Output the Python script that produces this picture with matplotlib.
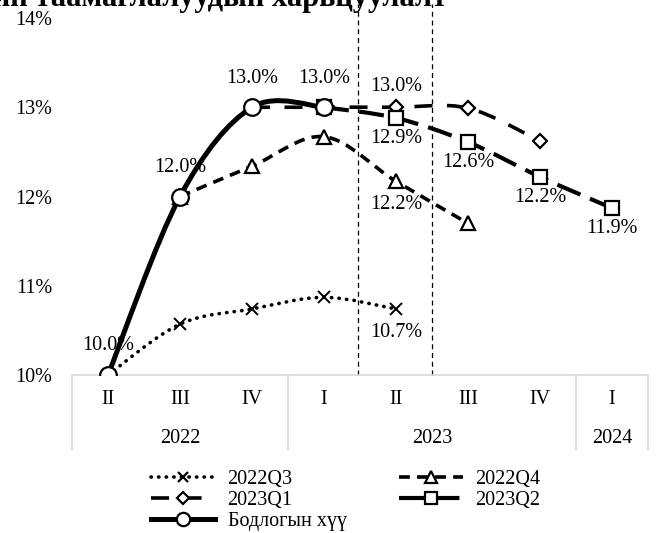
import numpy as np
import matplotlib
matplotlib.use("Agg")
import matplotlib.pyplot as plt
from matplotlib.path import Path
from matplotlib.patches import PathPatch
from matplotlib.lines import Line2D
from matplotlib.transforms import blended_transform_factory

plt.rcParams['font.family'] = ['Liberation Serif', 'DejaVu Serif']

# categories
quarters = ['II', 'III', 'IV', 'I', 'II', 'III', 'IV', 'I']
years = ['2022', '2023', '2024']
year_start = [0, 3, 7]     # first quarter index of each year
year_end = [2, 6, 7]       # last quarter index of each year

# series (x = quarter index, y = %)
q3_x = [0, 1, 2, 3, 4]
q3_y = [10.0, 10.57, 10.74, 10.87, 10.74]
q4_x = [1, 2, 3, 4, 5]
q4_y = [12.0, 12.34, 12.67, 12.17, 11.70]
q1_x = [2, 3, 4, 5, 6]
q1_y = [13.0, 13.0, 13.0, 12.99, 12.62]
q2_x = [3, 4, 5, 6, 7]
q2_y = [13.0, 12.88, 12.61, 12.22, 11.87]
rate_x = [0, 1, 2, 3]
rate_y = [10.0, 12.0, 13.0, 13.0]

# dashed vertical guides
guides_x = [3.47, 4.5]

title = 'Бодлогын хүүгийн таамаглалуудын харьцуулалт'


def smooth_path(xs, ys):
    # catmull-rom style bezier, like excel smoothed lines
    p = np.column_stack([xs, ys]).astype(float)
    n = len(p)
    verts = [p[0]]
    codes = [Path.MOVETO]
    for i in range(n - 1):
        p0 = p[i - 1] if i > 0 else p[i]
        p3 = p[i + 2] if i + 2 < n else p[i + 1]
        c1 = p[i] + (p[i + 1] - p0) / 6
        c2 = p[i + 1] - (p3 - p[i]) / 6
        verts += [c1, c2, p[i + 1]]
        codes += [Path.CURVE4] * 3
    return Path(verts, codes)


fig = plt.figure(figsize=(6.56, 5.33), dpi=100)
ax = fig.add_axes([72/656, 1-375/533, 576/656, 357/533])
ax.set_xlim(-0.5, 7.5)
ax.set_ylim(10, 14)

styles = [
    # x, y, linestyle, lw, marker, ms, label
    (q3_x, q3_y, (0, (0.1, 2.0)), 2.6, 'x', 9, '2022Q3'),
    (q4_x, q4_y, (0, (3, 2)), 2.6, '^', 10, '2022Q4'),
    (q1_x, q1_y, (0, (5, 4)), 2.6, 'D', 7.5, '2023Q1'),
    (q2_x, q2_y, (0, (6, 2.5)), 3.0, 's', 10, '2023Q2'),
    (rate_x, rate_y, '-', 3.6, 'o', 12, 'Бодлогын хүү'),
]

handles = []
for i, (xs, ys, ls, lw, mk, ms, lab) in enumerate(styles):
    patch = PathPatch(smooth_path(xs, ys), fill=False, edgecolor='black',
                      linewidth=lw, linestyle=ls, capstyle='round' if i == 0 else 'butt',
                      zorder=2 + i)
    ax.add_patch(patch)
    ax.plot(xs, ys, linestyle='none', marker=mk, ms=ms, mfc='white',
            mec='black', mew=1.4 if mk == 'x' else 1.6, zorder=10 + i)
    h = Line2D([], [], color='black', lw=lw, marker=mk, ms=ms * 0.8, mfc='white',
               mec='black', mew=1.6)
    if i == 0:
        h.set_linestyle((0, (0.1, 2.0)))
        h.set_dash_capstyle('round')
    else:
        h.set_linestyle(ls)
    handles.append(h)

# data labels
def lab(x, y, dy, dx=0):
    ax.annotate(f'{y:.1f}%', (x, y), xytext=(dx, dy), textcoords='offset points',
                ha='center', va='center', fontsize=14.5, zorder=20)

for x, y in zip(rate_x, rate_y):
    lab(x, y, 21)
lab(q1_x[2], q1_y[2], 15)
for x, y in zip(q2_x[1:], q2_y[1:]):
    lab(x, y, -15)
lab(q4_x[3], q4_y[3], -17)
lab(q3_x[4], q3_y[4], -17)

for gx in guides_x:
    ax.axvline(gx, ymin=0, ymax=1.04, color='black', lw=0.9, ls=(0, (4, 3)),
               clip_on=False, zorder=1)

# axes look
for s in ['left', 'right', 'top']:
    ax.spines[s].set_visible(False)
ax.spines['bottom'].set_color('#d9d9d9')
ax.spines['bottom'].set_linewidth(1.2)
ax.set_yticks([10, 11, 12, 13, 14])
ax.set_yticklabels(['10%', '11%', '12%', '13%', '14%'], fontsize=14.5)
ax.tick_params(axis='y', length=0, pad=14)
ax.set_xticks(range(len(quarters)))
ax.set_xticklabels(quarters, fontsize=14.5)
ax.tick_params(axis='x', length=0, pad=11)

tr = blended_transform_factory(ax.transData, ax.transAxes)
for yr, a, b in zip(years, year_start, year_end):
    ax.text((a + b) / 2, -0.177, yr, transform=tr, ha='center', va='center', fontsize=14.5)
for b in [-0.5] + [e + 0.5 for e in year_end]:
    ax.plot([b, b], [0, -0.21], transform=tr, color='#d9d9d9', lw=1.2, clip_on=False)

# legend filled row by row: reorder for matplotlib's column-first layout
order = [0, 2, 4, 1, 3]
fig.legend(handles=[handles[k] for k in order], labels=[styles[k][6] for k in order],
           ncol=2, loc='upper left', bbox_to_anchor=(151/656, 1-470/533), frameon=False,
           fontsize=14.5, borderpad=0, borderaxespad=0, handlelength=3.2,
           handletextpad=0.6, columnspacing=2.6, labelspacing=0.1)

fig.text(447/656, 1-6/533, title, ha='right', va='baseline', fontsize=22,
         fontweight='bold')

fig.savefig('out.png', dpi=100)
